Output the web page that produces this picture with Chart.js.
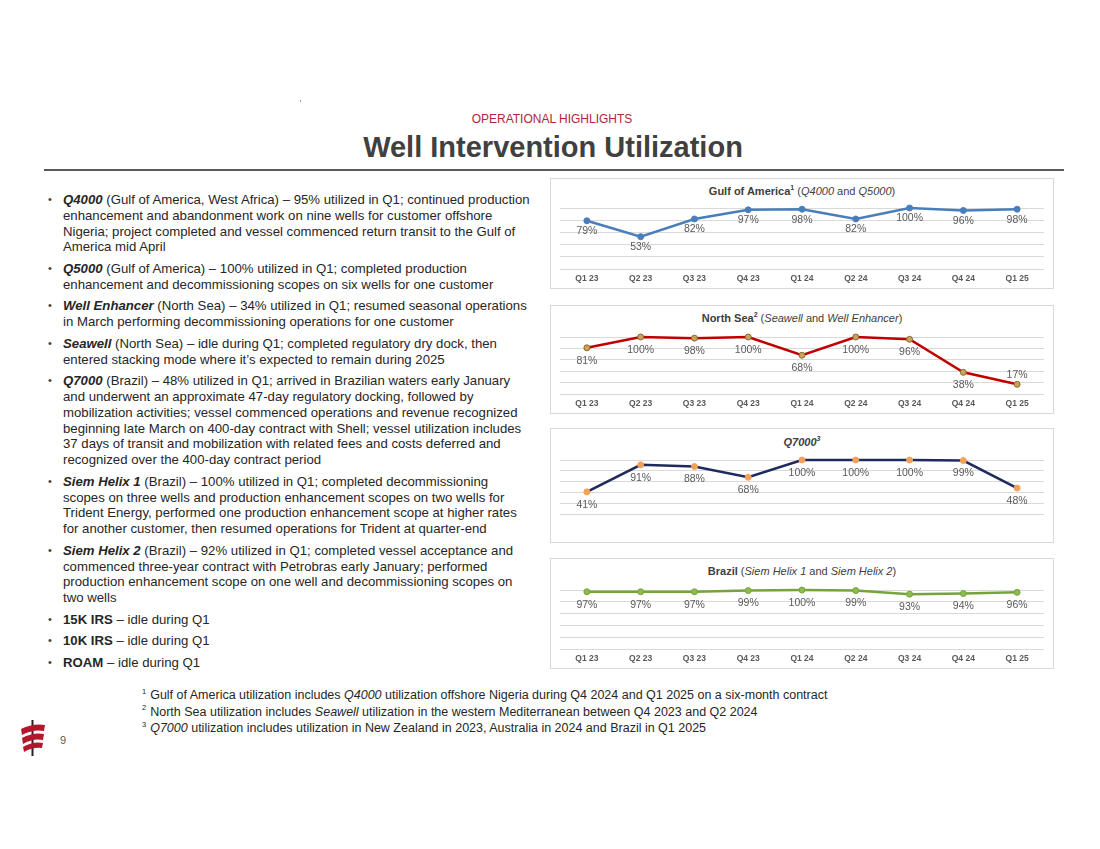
<!DOCTYPE html>
<html lang="en">
<head>
    <meta charset="UTF-8">
    <title>Well Intervention Utilization</title>
    <script src="https://cdn.jsdelivr.net/npm/chart.js"></script>
    <style>
        * {
            margin: 0;
            padding: 0;
            box-sizing: border-box;
            font-family: 'Liberation Sans', Arial, sans-serif;
        }
        body {
            background: #fff;
            width: 1100px;
            height: 849px;
            position: relative;
            overflow: hidden;
            color: #262626;
        }
        .abs { position: absolute; }
        .kicker {
            left: 0; width: 1104px; top: 112px;
            text-align: center;
            font-size: 12px;
            color: #b0263d;
        }
        .title {
            left: 0; width: 1106px; top: 131px;
            text-align: center;
            font-size: 29px;
            font-weight: bold;
            color: #404040;
        }
        .rule {
            left: 44px; width: 1020px; top: 169px;
            height: 2px; background: #595959;
        }
        ul.notes {
            left: 38px; top: 192px;
            list-style: none;
            font-size: 13.2px;
            line-height: 15.8px;
            white-space: nowrap;
        }
        ul.notes li {
            position: relative;
            padding-left: 25px;
            margin-bottom: 5.8px;
        }
        ul.notes li::before {
            content: '•';
            position: absolute;
            left: 10px;
            font-size: 11px;
            color: #404040;
        }
        .box {
            border: 1px solid #d9d9d9;
            left: 550px; width: 504px;
        }
        .ctitle {
            left: 550px; width: 504px;
            text-align: center;
            font-size: 11px;
            color: #404040;
        }
        .ctitle sup { font-size: 7px; }
        .cwrap { left: 550px; width: 504px; }
        .foot {
            left: 142px; top: 687px;
            font-size: 12.5px;
            line-height: 16.5px;
            color: #262626;
            white-space: nowrap;
        }
        .foot sup { font-size: 7.5px; line-height: 0; margin-right: 4px; }
        .pagenum { left: 60px; top: 734px; font-size: 11px; color: #595959; }
    </style>
</head>
<body>
    <div class="abs" style="left:300px;top:100px;width:1px;height:2px;background:#999"></div>
    <div class="abs kicker">OPERATIONAL HIGHLIGHTS</div>
    <div class="abs title">Well Intervention Utilization</div>
    <div class="abs rule"></div>

    <ul class="abs notes">
        <li><b><i>Q4000</i></b> (Gulf of America, West Africa) – 95% utilized in Q1; continued production<br>enhancement and abandonment work on nine wells for customer offshore<br>Nigeria; project completed and vessel commenced return transit to the Gulf of<br>America mid April</li>
        <li><b><i>Q5000</i></b> (Gulf of America) – 100% utilized in Q1; completed production<br>enhancement and decommissioning scopes on six wells for one customer</li>
        <li><b><i>Well Enhancer</i></b> (North Sea) – 34% utilized in Q1; resumed seasonal operations<br>in March performing decommissioning operations for one customer</li>
        <li><b><i>Seawell</i></b> (North Sea) – idle during Q1; completed regulatory dry dock, then<br>entered stacking mode where it’s expected to remain during 2025</li>
        <li><b><i>Q7000</i></b> (Brazil) – 48% utilized in Q1; arrived in Brazilian waters early January<br>and underwent an approximate 47-day regulatory docking, followed by<br>mobilization activities; vessel commenced operations and revenue recognized<br>beginning late March on 400-day contract with Shell; vessel utilization includes<br>37 days of transit and mobilization with related fees and costs deferred and<br>recognized over the 400-day contract period</li>
        <li><b><i>Siem Helix 1</i></b> (Brazil) – 100% utilized in Q1; completed decommissioning<br>scopes on three wells and production enhancement scopes on two wells for<br>Trident Energy, performed one production enhancement scope at higher rates<br>for another customer, then resumed operations for Trident at quarter-end</li>
        <li><b><i>Siem Helix 2</i></b> (Brazil) – 92% utilized in Q1; completed vessel acceptance and<br>commenced three-year contract with Petrobras early January; performed<br>production enhancement scope on one well and decommissioning scopes on<br>two wells</li>
        <li><b>15K IRS</b> – idle during Q1</li>
        <li><b>10K IRS</b> – idle during Q1</li>
        <li><b>ROAM</b> – idle during Q1</li>
    </ul>

    <div class="abs box" style="top:178px;height:111px"></div>
    <div class="abs ctitle" style="top:184px"><b>Gulf of America<sup>1</sup></b> (<i>Q4000</i> and <i>Q5000</i>)</div>
    <div class="abs cwrap" style="top:198px;height:90px"><canvas id="gulfChart"></canvas></div>

    <div class="abs box" style="top:305px;height:109px"></div>
    <div class="abs ctitle" style="top:311px"><b>North Sea<sup>2</sup></b> (<i>Seawell</i> and <i>Well Enhancer</i>)</div>
    <div class="abs cwrap" style="top:327px;height:86px"><canvas id="northSeaChart"></canvas></div>

    <div class="abs box" style="top:428px;height:115px"></div>
    <div class="abs ctitle" style="top:435px"><b><i>Q7000<sup>3</sup></i></b></div>
    <div class="abs cwrap" style="top:450px;height:92px"><canvas id="q7000Chart"></canvas></div>

    <div class="abs box" style="top:558px;height:111px"></div>
    <div class="abs ctitle" style="top:565px"><b>Brazil</b> (<i>Siem Helix 1</i> and <i>Siem Helix 2</i>)</div>
    <div class="abs cwrap" style="top:580px;height:88px"><canvas id="brazilChart"></canvas></div>

    <div class="abs foot">
        <div><sup>1</sup>Gulf of America utilization includes <i>Q4000</i> utilization offshore Nigeria during Q4 2024 and Q1 2025 on a six-month contract</div>
        <div><sup>2</sup>North Sea utilization includes <i>Seawell</i> utilization in the western Mediterranean between Q4 2023 and Q2 2024</div>
        <div><sup>3</sup><i>Q7000</i> utilization includes utilization in New Zealand in 2023, Australia in 2024 and Brazil in Q1 2025</div>
    </div>

    <svg class="abs" style="left:18px;top:720px" width="30" height="36" viewBox="0 0 30 36">
        <rect x="13.5" y="0" width="2" height="36" fill="#222"/>
        <path d="M3 9 Q15 3 27 5 L26 11 Q15 9 4 15 Z" fill="#b5162b"/>
        <path d="M4 18 Q15 12 26 14 L25 20 Q15 18 5 24 Z" fill="#b5162b"/>
        <path d="M5 27 Q15 21 25 23 L24 28 Q15 27 6 32 Z" fill="#b5162b"/>
    </svg>
    <div class="abs pagenum">9</div>

    <script>
        const quarters = ['Q1 23', 'Q2 23', 'Q3 23', 'Q4 23', 'Q1 24', 'Q2 24', 'Q3 24', 'Q4 24', 'Q1 25'];
        const gulfOfAmerica = [79, 53, 82, 97, 98, 82, 100, 96, 98];
        const northSea = [81, 100, 98, 100, 68, 100, 96, 38, 17];
        const q7000 = [41, 91, 88, 68, 100, 100, 100, 99, 48];
        const brazil = [97, 97, 97, 99, 100, 99, 93, 94, 96];
        const yMin = 0, yMax = 100, yStep = 20;

        // draws the "NN%" text next to each point
        const pctLabels = {
            id: 'pctLabels',
            afterDatasetsDraw(chart) {
                const ctx = chart.ctx;
                chart.data.datasets.forEach((ds, i) => {
                    const meta = chart.getDatasetMeta(i);
                    const above = ds.labelsAbove || [];
                    meta.data.forEach((pt, j) => {
                        ctx.save();
                        ctx.font = '10.5px "Liberation Sans", Arial';
                        ctx.fillStyle = '#595959';
                        ctx.textAlign = 'center';
                        ctx.textBaseline = 'middle';
                        const dy = above.includes(j) ? -9 : ds.labelGap;
                        ctx.fillText(ds.data[j] + '%', pt.x, pt.y + dy);
                        ctx.restore();
                    });
                });
            }
        };

        function makeChart(id, values, lineColor, pointFill, pointBorder, showX, labelGap, labelsAbove) {
            const ctx = document.getElementById(id).getContext('2d');
            return new Chart(ctx, {
                type: 'line',
                data: {
                    labels: quarters,
                    datasets: [{
                        data: values,
                        borderColor: lineColor,
                        borderWidth: 2.5,
                        pointBackgroundColor: pointFill,
                        pointBorderColor: pointBorder,
                        pointBorderWidth: 1,
                        pointRadius: 3,
                        tension: 0,
                        clip: false,
                        labelGap: labelGap,
                        labelsAbove: labelsAbove || []
                    }]
                },
                options: {
                    responsive: true,
                    maintainAspectRatio: false,
                    animation: false,
                    layout: { padding: { left: 10, right: 10, top: 10, bottom: showX ? 0 : 9 } },
                    plugins: { legend: { display: false }, tooltip: { enabled: false } },
                    scales: {
                        x: {
                            display: showX,
                            offset: true,
                            grid: { display: false, drawTicks: false },
                            border: { display: false },
                            ticks: {
                                color: '#595959',
                                font: { size: 8.5, weight: 'bold', family: '"Liberation Sans", Arial' },
                                padding: 5,
                                maxRotation: 0,
                                autoSkip: false
                            },
                            afterFit: s => { s.height = 19; }
                        },
                        y: {
                            min: yMin,
                            max: yMax,
                            ticks: { display: false, stepSize: yStep },
                            grid: { color: '#d9d9d9', lineWidth: 1, drawTicks: false },
                            border: { display: false },
                            afterFit: s => { s.width = 0; }
                        }
                    }
                },
                plugins: [pctLabels]
            });
        }

        makeChart('gulfChart', gulfOfAmerica, '#4a7ebb', '#4a7ebb', '#4a7ebb', true, 10.5);
        makeChart('northSeaChart', northSea, '#c00000', '#c9a25e', '#8c6a2c', true, 13, [8]);
        makeChart('q7000Chart', q7000, '#1f2b5c', '#f2a15a', '#f2a15a', false, 13);
        makeChart('brazilChart', brazil, '#77a33c', '#8dbb4c', '#77a33c', true, 13);
    </script>
</body>
</html>
